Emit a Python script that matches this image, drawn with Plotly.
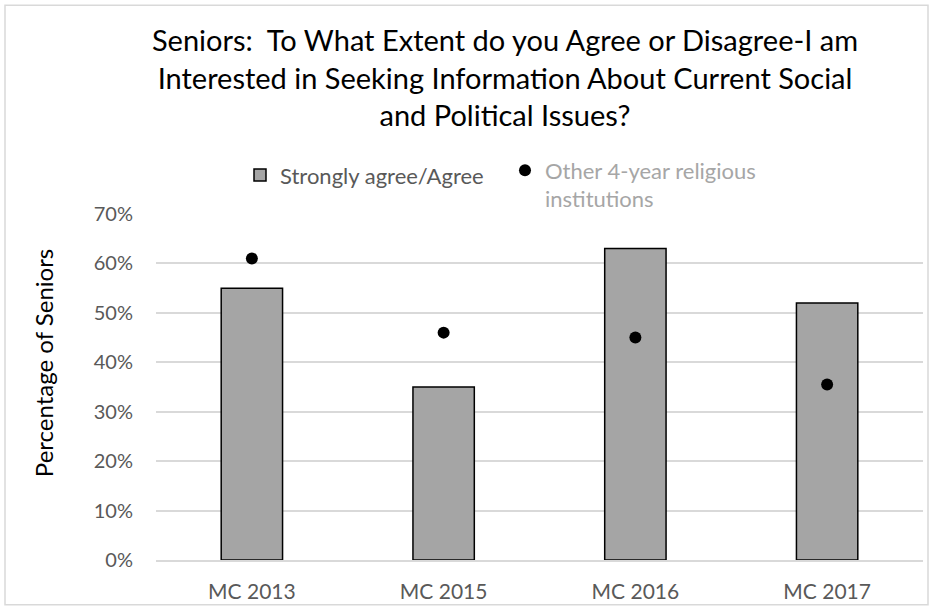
import plotly.graph_objects as go

categories = ["MC 2013", "MC 2015", "MC 2016", "MC 2017"]
agree_pct = [55, 35, 63, 52]
peer_pct = [61, 46, 45, 35.5]
y_ticks = [0, 10, 20, 30, 40, 50, 60, 70]
y_tick_labels = [f"{v}%" for v in y_ticks]

FONT = "Lato"
W, H = 930, 610
L, R, T, B = 156, 7, 214, 48

fig = go.Figure()

fig.add_trace(go.Bar(
    x=categories, y=agree_pct,
    name="Strongly agree/Agree",
    marker=dict(color="#a5a5a5", line=dict(color="#000000", width=1.5)),
    legend="legend",
))

fig.add_trace(go.Scatter(
    x=categories, y=peer_pct,
    mode="markers",
    name="Other 4-year religious<br>institutions",
    marker=dict(color="#000000", size=12, symbol="circle"),
    legend="legend2",
))

pw = W - L - R
ph = H - T - B


def px_x(x):
    return (x - L) / pw


def px_y(y):
    return (H - B - y) / ph


fig.update_layout(
    width=W, height=H,
    margin=dict(l=L, r=R, t=T, b=B),
    paper_bgcolor="white", plot_bgcolor="white",
    font=dict(family=FONT, color="#595959"),
    bargap=0.68,
    title=dict(
        text="Seniors:  To What Extent do you Agree or Disagree-I am<br>"
             "Interested in Seeking Information About Current Social<br>"
             "and Political Issues?",
        font=dict(family=FONT, size=29, color="#000000"),
        x=505 / W, xanchor="center", xref="container",
        y=1 - 51 / H, yanchor="top", yref="container",
    ),
    xaxis=dict(
        showgrid=False, showline=True, linecolor="#d9d9d9", linewidth=1.5,
        tickfont=dict(size=21, color="#595959"), ticks="",
        ticklabelstandoff=12,
    ),
    yaxis=dict(
        range=[0, 70], tickvals=y_ticks, ticktext=y_tick_labels,
        showgrid=True, gridcolor="#d9d9d9", gridwidth=1.5,
        zeroline=False, showline=False, ticks="",
        tickfont=dict(size=20, color="#595959"),
        ticklabelstandoff=22,
    ),
    legend=dict(
        orientation="h", x=px_x(240), xanchor="left",
        y=px_y(175), yanchor="middle",
        bgcolor="rgba(0,0,0,0)", font=dict(size=22, color="#595959"),
        itemwidth=30,
    ),
    legend2=dict(
        orientation="h", x=px_x(505), xanchor="left",
        y=px_y(149), yanchor="top",
        bgcolor="white", font=dict(size=22, color="#a6a6a6"),
        valign="top", itemwidth=30,
    ),
    showlegend=True,
    annotations=[dict(
        text="Percentage of Seniors", textangle=-90,
        xref="paper", yref="paper", x=px_x(43), y=px_y(364),
        xanchor="center", yanchor="middle", showarrow=False,
        font=dict(family=FONT, size=24, color="#000000"),
    )],
    shapes=[dict(
        type="rect", xref="paper", yref="paper",
        x0=px_x(5), x1=px_x(928), y0=px_y(607), y1=px_y(4),
        line=dict(color="#d9d9d9", width=1.5), fillcolor="rgba(0,0,0,0)",
        layer="below",
    )],
)

fig.write_html("out.html")
